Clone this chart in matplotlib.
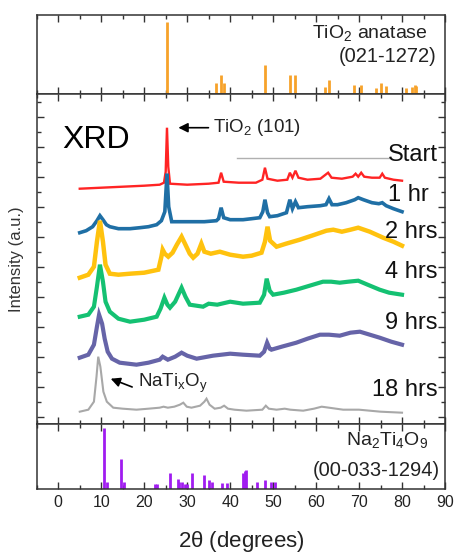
import matplotlib
matplotlib.use("Agg")
import matplotlib.pyplot as plt
from matplotlib.ticker import MultipleLocator

plt.rcParams['font.family'] = ['Liberation Sans', 'DejaVu Sans']
plt.rcParams['mathtext.fontset'] = 'custom'
plt.rcParams['mathtext.rm'] = 'Liberation Sans'
plt.rcParams['mathtext.it'] = 'Liberation Sans'

# Reference pattern: TiO2 anatase (021-1272)
anatase_pos = [25.35, 36.8, 37.8, 38.5, 48.1, 53.9, 55.1, 62.1, 62.9, 68.8, 70.4,
               74.0, 75.2, 76.2, 80.9, 82.3, 83.0, 83.3]
anatase_int = [100, 15, 26, 15, 40, 26, 26, 10, 20, 13, 13, 8, 15, 11, 8, 10, 12, 11]

# Reference pattern: Na2Ti4O9 (00-033-1294)
nato_pos = [10.6, 11.25, 14.5, 15.4, 22.6, 23.0, 25.9, 27.8, 28.2, 28.8, 29.6, 29.9,
            31.2, 34.0, 35.0, 35.8, 38.2, 39.2, 42.9, 43.4, 43.8, 46.2, 48.1, 49.6, 50.4]
nato_int = [100, 11, 49, 12, 8, 8, 26, 16, 12, 12, 9, 9, 26, 23, 14, 12, 10, 10,
            26, 29, 31, 11, 14, 12, 12]

# XRD patterns (offset, a.u.)
start_x = [5.0, 10, 15, 20, 23.6, 24.6, 25.0, 25.3, 25.6, 26.0, 30, 35, 37.3, 37.9, 38.5,
           42, 46, 47.5, 48.1, 48.7, 51, 53.3, 53.9, 54.5, 55.2, 55.9, 58, 61, 62.8, 63.6,
           66, 68.5, 69.2, 69.8, 70.5, 71.2, 73, 74.8, 75.4, 76.0, 78, 80]
start_y = [228, 229, 230, 231, 232, 234, 245, 289, 250, 233, 232, 233, 234, 244, 235,
           234, 234, 237, 249, 238, 236, 237, 244, 239, 246, 239, 237, 238, 244, 239,
           238, 240, 243, 240, 244, 240, 239, 239, 243, 239, 237, 236]

hr1_x = [5.0, 6.5, 8, 9.0, 9.7, 10.4, 11.2, 12, 14, 16.7, 19, 21, 22.9, 24.0, 24.8, 25.3,
         25.7, 26.4, 28, 31, 34, 36.8, 37.3, 37.9, 38.5, 40, 43, 45, 46.9, 47.6, 48.1,
         48.7, 49.2, 51, 53.1, 53.9, 54.5, 55.2, 55.9, 58, 61, 62.3, 63.0, 63.7, 65, 67,
         69, 69.8, 71, 73, 74.6, 75.4, 76.3, 78, 80]
hr1_y = [184, 186, 190, 196, 201, 197, 192, 190, 188, 188, 189, 190, 192, 196, 205, 243,
         210, 195, 195, 195, 195, 196, 198, 209, 199, 197, 197, 198, 199, 205, 217,
         204, 200, 201, 204, 217, 208, 215, 209, 210, 211, 212, 218, 212, 212, 214,
         217, 219, 217, 214, 213, 214, 211, 208, 205]

hr2_x = [5.0, 7, 8.3, 9.0, 9.7, 10.4, 11.0, 12, 14, 16.7, 20, 23.3, 24.0, 24.3, 24.8,
         25.6, 26.6, 27.6, 28.7, 29.6, 30.6, 31.4, 32.4, 33.3, 34.0, 35.5, 37.6, 40, 43,
         45, 47.3, 48.1, 48.7, 49.3, 50.8, 53, 56.2, 59, 62.4, 64, 66, 68, 69.8, 72.5,
         75.6, 78, 80]
hr2_y = [139, 142, 150, 175, 196, 175, 152, 143, 142, 143, 144, 147, 160, 167, 163,
         160, 164, 172, 180, 172, 163, 159, 163, 173, 165, 163, 165, 162, 160,
         161, 164, 175, 190, 176, 170, 173, 177, 181, 186, 187, 185, 187, 189, 185,
         179, 175, 171]

hr4_x = [5.0, 7, 8.3, 9.0, 9.7, 10.4, 11.0, 12, 14, 16.7, 20, 22.9, 23.8, 24.7, 25.4,
         26.0, 27.2, 28.7, 29.6, 30.6, 33.7, 35, 37, 40, 43, 46.9, 47.9, 48.5, 49.2, 50,
         52.5, 55.4, 58.5, 61.6, 63.5, 65.5, 67.5, 69.8, 72, 74.8, 77, 80]
hr4_y = [100, 102, 110, 130, 152, 135, 115, 105, 98, 95, 97, 100, 108, 119, 112,
         109, 115, 129, 120, 112, 110, 113, 112, 115, 113, 114, 122, 138, 126, 122,
         124, 127, 131, 135, 135, 134, 135, 136, 132, 127, 124, 122]

hr9_x = [5.0, 7, 8.3, 9.0, 9.5, 10.2, 10.8, 11.5, 12.5, 14.3, 18.2, 21, 23.6, 24.3, 25.5,
         27.2, 28.7, 30, 32.2, 36, 40, 43, 46.9, 47.9, 48.6, 49.2, 49.6, 52, 55.4, 58,
         60.9, 63, 65.5, 68, 70.2, 72.5, 74.8, 77.5, 80]
hr9_y = [59, 62, 72, 90, 102, 93, 78, 65, 58, 54, 52, 54, 57, 60, 57,
         60, 64, 61, 58, 61, 63, 62, 61, 65, 74, 68, 67, 70, 74, 78,
         82, 82, 81, 84, 85, 82, 79, 75, 72]

hr18_x = [5.0, 7, 8.3, 8.9, 9.3, 9.8, 10.5, 11.3, 12.8, 15, 18.2, 21, 23.6, 24.5, 25.5, 27,
          28.3, 29.1, 29.9, 31, 33, 34.0, 34.5, 35.2, 36.4, 37.8, 38.6, 39.5, 41, 43.8,
          47.5, 48.3, 49.0, 50.8, 52.7, 54, 57, 59.5, 61.3, 63, 66.3, 70, 75, 80]
hr18_y = [5, 7, 15, 40, 60, 50, 25, 15, 9, 8, 7, 8, 9, 10, 9, 10,
          12, 14, 10, 9, 11, 15, 18, 12, 8, 9, 11, 8, 7, 6,
          7, 11, 8, 7, 8, 7, 6, 8, 10, 9, 7, 7, 5, 4]

series = [
    (start_x, start_y, '#FF2424', 'Start', 88.3, 261.7, 'right', 1.7),
    (hr1_x, hr1_y, '#1F6FA5', '1 hr', 76.7, 221.7, 'left', 2.6),
    (hr2_x, hr2_y, '#FFC20E', '2 hrs', 88.3, 185, 'right', 3.2),
    (hr4_x, hr4_y, '#14C172', '4 hrs', 88.3, 145, 'right', 3.0),
    (hr9_x, hr9_y, '#6664A8', '9 hrs', 88.3, 93.7, 'right', 3.0),
    (hr18_x, hr18_y, '#A8A8A8', '18 hrs', 88.3, 26.7, 'right', 1.5),
]

fig = plt.figure(figsize=(4.58, 5.53), dpi=100)
left, width = 0.0803, 0.8913
ax_top = fig.add_axes([left, 0.830, width, 0.1429])
ax = fig.add_axes([left, 0.2333, width, 0.5967])
ax_bot = fig.add_axes([left, 0.1157, width, 0.1175])

for a in (ax_top, ax, ax_bot):
    a.set_xlim(-5, 90)
    a.xaxis.set_major_locator(MultipleLocator(10))
    a.xaxis.set_minor_locator(MultipleLocator(5))
    a.tick_params(axis='x', which='both', direction='in', top=True, bottom=True,
                  labelbottom=False, width=1, color='#333333')
    a.tick_params(axis='x', which='major', length=5)
    a.tick_params(axis='x', which='minor', length=3)
    for s in a.spines.values():
        s.set_linewidth(1.1)
        s.set_color('#333333')

# top: anatase sticks
ax_top.vlines(anatase_pos, 0, anatase_int, color='#F7A22A', lw=2)
ax_top.set_ylim(0, 110)
ax_top.set_yticks([])
ax_top.text(86.0, 85, r'TiO$_2$ anatase', ha='right', va='center', fontsize=14, color='#222222')
ax_top.text(88.0, 52, '(021-1272)', ha='right', va='center', fontsize=14.5, color='#222222')

# middle: XRD
for xs, ys, c, lab, tx, ty, ha, lw in series:
    ax.plot(xs, ys, color=c, lw=lw, solid_joinstyle='miter')
    ax.text(tx, ty, lab, ha=ha, va='center', fontsize=17, color='#111111')
ax.plot([41.5, 77], [258.4, 258.4], color='#B0B0B0', lw=1)
ax.set_ylim(-7.3, 322.7)
ax.yaxis.set_major_locator(MultipleLocator(30))
ax.yaxis.set_minor_locator(MultipleLocator(15))
ax.tick_params(axis='y', which='both', direction='in', left=True, right=True,
               labelleft=False, width=1, color='#333333')
ax.tick_params(axis='y', which='major', length=5)
ax.tick_params(axis='y', which='minor', length=3)
ax.set_ylabel('Intensity (a.u.)', fontsize=12, color='#333333', labelpad=9)
ax.text(1.0, 276.7, 'XRD', ha='left', va='center', fontsize=23)
ax.annotate('', xy=(27.3, 289), xytext=(35.6, 289),
            arrowprops=dict(arrowstyle='-|>', color='k', lw=1.2, mutation_scale=14))
ax.text(36.0, 289, r'TiO$_2$ (101)', ha='left', va='center', fontsize=13.5, color='#222222')
ax.annotate('', xy=(11.6, 39), xytext=(17.8, 28.7),
            arrowprops=dict(arrowstyle='-|>', color='k', lw=1.2, mutation_scale=14))
ax.text(18.5, 33.7, r'NaTi$_x$O$_y$', ha='left', va='center', fontsize=13.5, color='#222222')

# bottom: Na2Ti4O9 sticks
ax_bot.vlines(nato_pos, 0, nato_int, color='#A01CF0', lw=2)
ax_bot.set_ylim(0, 106.5)
ax_bot.set_yticks([])
ax_bot.tick_params(axis='x', labelbottom=True, labelsize=11.5, pad=4, labelcolor='#222222')
ax_bot.text(86.0, 80, r'Na$_2$Ti$_4$O$_9$', ha='right', va='center', fontsize=14, color='#222222')
ax_bot.text(88.8, 31, '(00-033-1294)', ha='right', va='center', fontsize=14.5, color='#222222')
ax_bot.set_xlabel(r'2$\theta$ (degrees)', fontsize=16, labelpad=14, color='#222222')

fig.savefig('out.png', dpi=100)
